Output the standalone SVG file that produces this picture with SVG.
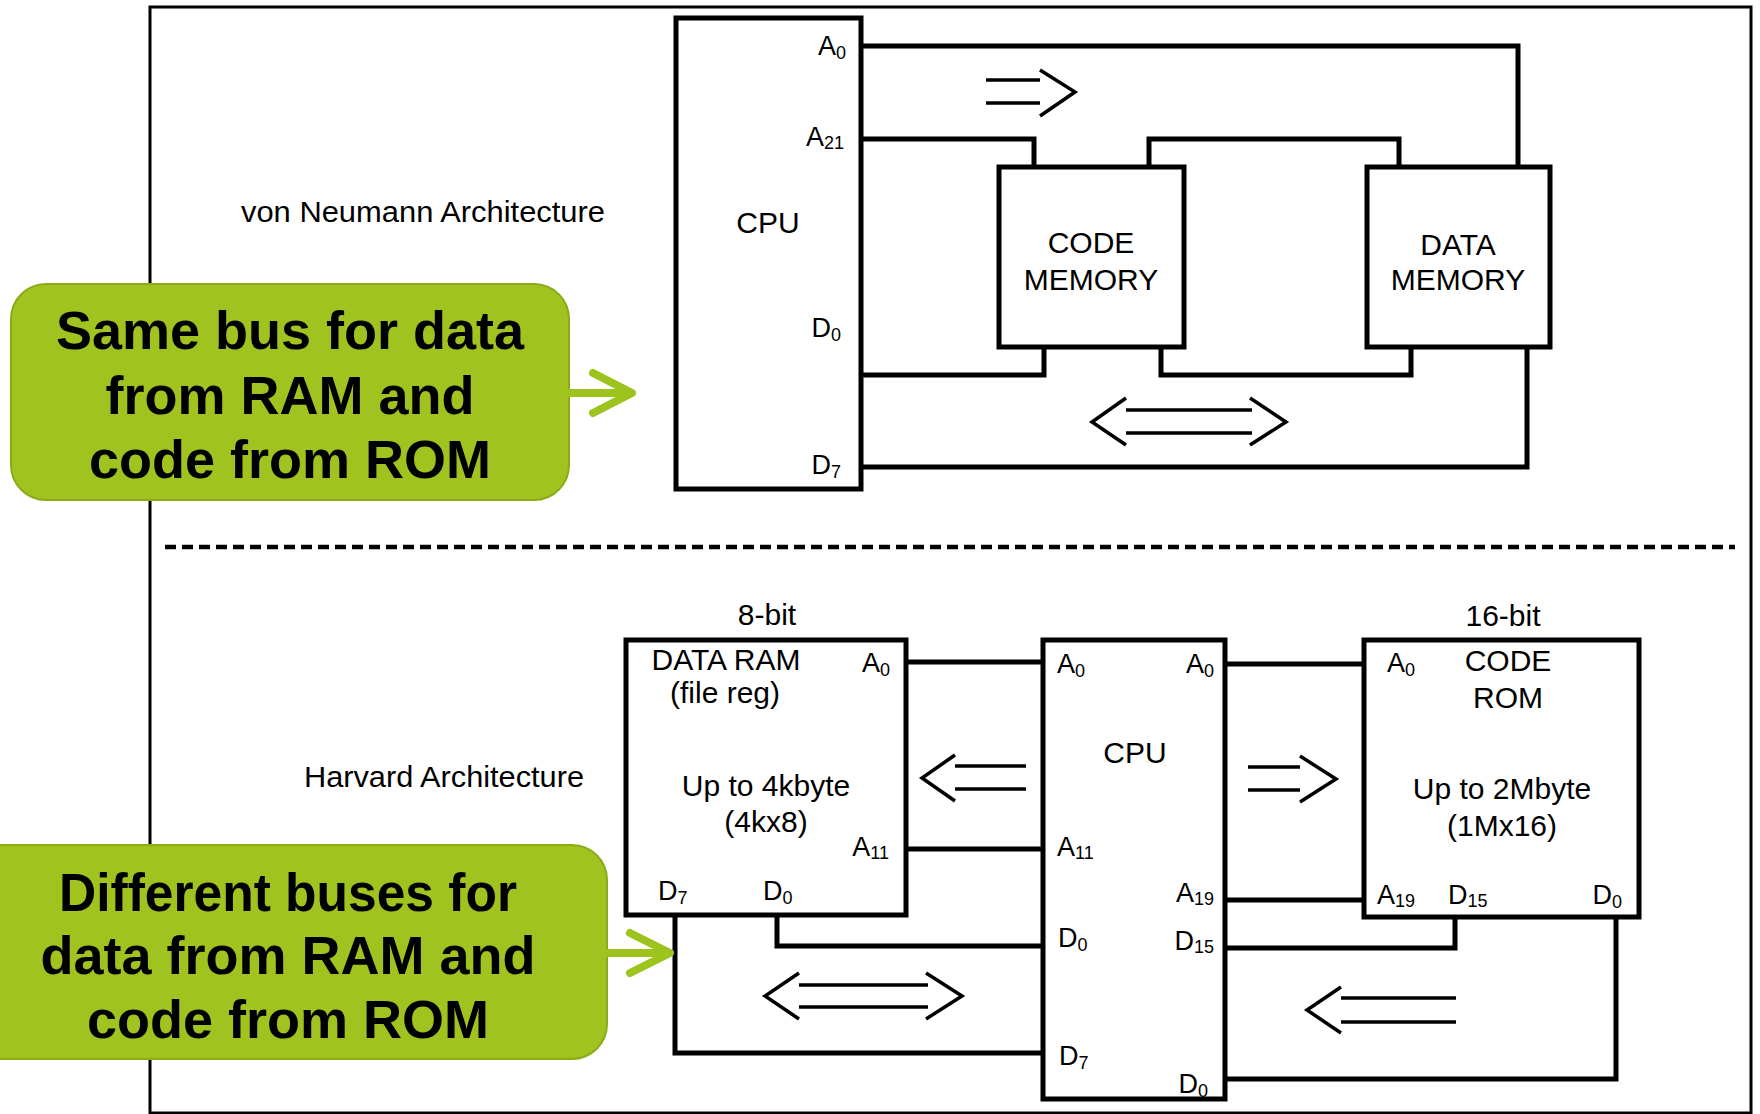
<svg xmlns="http://www.w3.org/2000/svg" width="1760" height="1114" viewBox="0 0 1760 1114">
<style>
.box{fill:#fff;stroke:#000;stroke-width:5}
.bus{fill:none;stroke:#000;stroke-width:5;stroke-linejoin:miter}
.arr{fill:none;stroke:#000;stroke-width:3.5}
.t{font-family:"Liberation Sans",Arial,sans-serif;font-size:30px;fill:#000}
.pin{font-family:"Liberation Sans",Arial,sans-serif;font-size:27px;fill:#000}
.sub{font-size:18px}
.call{fill:#a0c31f;stroke:#8aab18;stroke-width:2}
.ct{font-family:"Liberation Sans",Arial,sans-serif;font-size:54px;font-weight:bold;fill:#000;text-anchor:middle}
.garr{fill:none;stroke:#9dc41d;stroke-width:8;stroke-linecap:round;stroke-linejoin:round}
</style>
<rect width="1760" height="1114" fill="#fff"/>
<rect x="150" y="7" width="1601" height="1106" fill="none" stroke="#000" stroke-width="3"/>
<path d="M165,547 H1735" fill="none" stroke="#000" stroke-width="4.5" stroke-dasharray="11 6"/>

<text class="t" x="241" y="222" textLength="364" lengthAdjust="spacingAndGlyphs">von Neumann Architecture</text>
<text class="t" x="304" y="787" textLength="280" lengthAdjust="spacingAndGlyphs">Harvard Architecture</text>

<g id="connectors">
  <path class="bus" d="M861,46 H1518 V167"/>
  <path class="bus" d="M861,139 H1034 V167"/>
  <path class="bus" d="M1149,167 V139 H1399 V167"/>
  <path class="bus" d="M861,375 H1044 V347"/>
  <path class="bus" d="M1161,347 V375 H1411 V347"/>
  <path class="bus" d="M861,467 H1527 V347"/>
  <path class="arr" d="M986,80 H1040 M986,103 H1040 M1040,70 L1075,92 L1040,116"/>
  <path class="arr" d="M1126,410 H1252 M1126,433 H1252 M1126,398 L1092,422 L1126,445 M1250,398 L1286,422 L1250,445"/>

  <path class="bus" d="M906,662 H1043"/>
  <path class="bus" d="M906,849 H1043"/>
  <path class="bus" d="M777,915 V946 H1043"/>
  <path class="bus" d="M675,915 V1053 H1043"/>
  <path class="bus" d="M1225,664 H1364"/>
  <path class="bus" d="M1225,900 H1364"/>
  <path class="bus" d="M1455,917 V948 H1225"/>
  <path class="bus" d="M1616,917 V1079 H1225"/>
  <path class="arr" d="M955,766 H1026 M955,789 H1026 M955,755 L922,778 L955,801"/>
  <path class="arr" d="M1248,767 H1300 M1248,790 H1300 M1300,756 L1336,779 L1300,802"/>
  <path class="arr" d="M799,985 H928 M799,1007 H928 M799,973 L765,996 L799,1019 M926,973 L962,996 L926,1019"/>
  <path class="arr" d="M1341,998 H1456 M1341,1022 H1456 M1341,987 L1307,1010 L1341,1033"/>
</g>

<g id="vn-cpu">
  <rect class="box" x="676" y="18" width="185" height="471"/>
  <text class="t" x="768" y="233" text-anchor="middle">CPU</text>
  <text class="pin" x="846" y="55" text-anchor="end">A<tspan class="sub" dy="4">0</tspan></text>
  <text class="pin" x="844" y="146" text-anchor="end">A<tspan class="sub" dy="3">21</tspan></text>
  <text class="pin" x="841" y="337" text-anchor="end">D<tspan class="sub" dy="4">0</tspan></text>
  <text class="pin" x="841" y="474" text-anchor="end">D<tspan class="sub" dy="4">7</tspan></text>
</g>
<g id="vn-code-memory">
  <rect class="box" x="999" y="167" width="185" height="180"/>
  <text class="t" x="1091" y="253" text-anchor="middle">CODE</text>
  <text class="t" x="1091" y="290" text-anchor="middle">MEMORY</text>
</g>
<g id="vn-data-memory">
  <rect class="box" x="1367" y="167" width="183" height="180"/>
  <text class="t" x="1458" y="255" text-anchor="middle">DATA</text>
  <text class="t" x="1458" y="290" text-anchor="middle">MEMORY</text>
</g>

<g id="hv-data-ram">
  <text class="t" x="767" y="625" text-anchor="middle">8-bit</text>
  <rect class="box" x="626" y="640" width="280" height="275"/>
  <text class="t" x="726" y="670" text-anchor="middle">DATA RAM</text>
  <text class="t" x="725" y="703" text-anchor="middle">(file reg)</text>
  <text class="t" x="766" y="796" text-anchor="middle">Up to 4kbyte</text>
  <text class="t" x="766" y="832" text-anchor="middle">(4kx8)</text>
  <text class="pin" x="890" y="672" text-anchor="end">A<tspan class="sub" dy="4">0</tspan></text>
  <text class="pin" x="889" y="856" text-anchor="end">A<tspan class="sub" dy="3">11</tspan></text>
  <text class="pin" x="658" y="900">D<tspan class="sub" dy="4">7</tspan></text>
  <text class="pin" x="763" y="900">D<tspan class="sub" dy="4">0</tspan></text>
</g>
<g id="hv-cpu">
  <rect class="box" x="1043" y="640" width="182" height="459"/>
  <text class="t" x="1135" y="763" text-anchor="middle">CPU</text>
  <text class="pin" x="1057" y="673">A<tspan class="sub" dy="4">0</tspan></text>
  <text class="pin" x="1214" y="673" text-anchor="end">A<tspan class="sub" dy="4">0</tspan></text>
  <text class="pin" x="1057" y="856">A<tspan class="sub" dy="3">11</tspan></text>
  <text class="pin" x="1214" y="902" text-anchor="end">A<tspan class="sub" dy="3">19</tspan></text>
  <text class="pin" x="1058" y="947">D<tspan class="sub" dy="4">0</tspan></text>
  <text class="pin" x="1214" y="950" text-anchor="end">D<tspan class="sub" dy="3">15</tspan></text>
  <text class="pin" x="1059" y="1065">D<tspan class="sub" dy="4">7</tspan></text>
  <text class="pin" x="1208" y="1093" text-anchor="end">D<tspan class="sub" dy="4">0</tspan></text>
</g>
<g id="hv-code-rom">
  <text class="t" x="1503" y="626" text-anchor="middle">16-bit</text>
  <rect class="box" x="1364" y="640" width="275" height="277"/>
  <text class="t" x="1508" y="671" text-anchor="middle">CODE</text>
  <text class="t" x="1508" y="708" text-anchor="middle">ROM</text>
  <text class="t" x="1502" y="799" text-anchor="middle">Up to 2Mbyte</text>
  <text class="t" x="1502" y="836" text-anchor="middle">(1Mx16)</text>
  <text class="pin" x="1387" y="672">A<tspan class="sub" dy="4">0</tspan></text>
  <text class="pin" x="1377" y="904">A<tspan class="sub" dy="3">19</tspan></text>
  <text class="pin" x="1448" y="904">D<tspan class="sub" dy="3">15</tspan></text>
  <text class="pin" x="1622" y="904" text-anchor="end">D<tspan class="sub" dy="4">0</tspan></text>
</g>

<g id="callout-von-neumann">
  <rect class="call" x="11" y="284" width="558" height="216" rx="35"/>
  <text class="ct" x="290" y="349">Same bus for data</text>
  <text class="ct" x="290" y="414">from RAM and</text>
  <text class="ct" x="290" y="478">code from ROM</text>
  <path class="garr" d="M569,393 H628 M593,373 L632,393 L593,413"/>
</g>
<g id="callout-harvard">
  <rect class="call" x="-40" y="845" width="647" height="214" rx="35"/>
  <text class="ct" x="288" y="911" textLength="458" lengthAdjust="spacingAndGlyphs">Different buses for</text>
  <text class="ct" x="288" y="974">data from RAM and</text>
  <text class="ct" x="288" y="1038">code from ROM</text>
  <path class="garr" d="M607,953 H666 M630,933 L670,953 L630,973"/>
</g>
</svg>
